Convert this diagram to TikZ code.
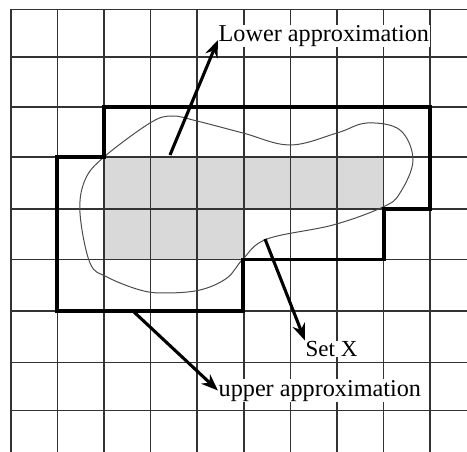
\documentclass[tikz,border=0pt]{standalone}
\usepackage{fontspec}
\setmainfont{Liberation Serif}
\usetikzlibrary{arrows.meta}

\begin{document}
\begin{tikzpicture}[x=1pt, y=-1pt, >={Stealth[length=17pt,width=13pt]},
    gridline/.style={line width=1.5pt, draw=black!80},
    upperline/.style={line width=3.6pt, line join=miter},
    setcurve/.style={line width=1pt, draw=black!70},
    pointer/.style={->, line width=3.1pt},
    label/.style={font=\fontsize{24.2}{27}\selectfont, fill=white, inner sep=0.5pt, anchor=base west}]
    \useasboundingbox (0,0) rectangle (467,452);

    % lower approximation cells
    \fill[black!15] (104,157) rectangle (384,209);
    \fill[black!15] (104,209) rectangle (243,259.5);

    % grid
    \foreach \gx in {0,...,9}
        \draw[gridline] ({11+46.56*\gx},9.5) -- ({11+46.56*\gx},452);
    \foreach \gy in {9.5,57,107,157,209,259.5,311,362.5,410.5}
        \draw[gridline] (11,\gy) -- (467,\gy);

    % set X
    \draw[setcurve] plot[smooth cycle, tension=0.6] coordinates {
        (104,157) (150,123) (172,116) (197,121) (243,133) (290,145)
        (337,133) (367,123) (400,130) (413,160) (400,193) (383,207)
        (333,225) (267,239) (243,259) (227,278) (200,290) (165,293)
        (140,290) (107,277) (90,263) (80,213) (85,180)};

    % upper approximation
    \draw[upperline] (104,107) -- (430,107) -- (430,209) -- (384,209)
        -- (384,259.5) -- (243,259.5) -- (243,311) -- (57,311)
        -- (57,157) -- (104,157) -- cycle;

    % labels
    \node[label] (lower) at (218,41.5) {Lower approximation};
    \node[label, font=\fontsize{23}{26}\selectfont] (setx) at (305,356.5) {Set X};
    \node[label] (upper) at (218,396) {upper approximation};

    \coordinate (lowtail) at (170,155);
    \coordinate (xtail) at (265,239);
    \coordinate (uptail) at (134,312);

    \draw[pointer] (lowtail) -- (lower.west |- 0,40);
    \draw[pointer] (xtail) -- (setx.north west);
    \draw[pointer] (uptail) -- (upper.west);
\end{tikzpicture}
\end{document}
